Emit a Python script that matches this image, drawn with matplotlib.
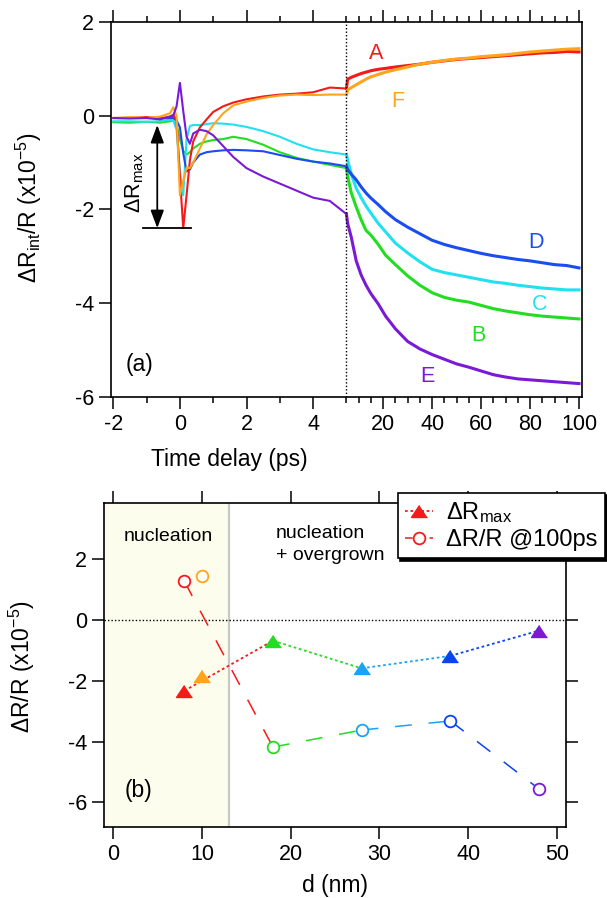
import matplotlib
matplotlib.use('Agg')
import matplotlib.pyplot as plt
import numpy as np
from matplotlib.lines import Line2D

plt.rcParams['font.family'] = ['Liberation Sans', 'DejaVu Sans']
plt.rcParams['mathtext.fontset'] = 'custom'
plt.rcParams['mathtext.rm'] = 'Liberation Sans'
plt.rcParams['mathtext.it'] = 'Liberation Sans:italic'
plt.rcParams['axes.unicode_minus'] = False

# ---------------- data, panel (a) ----------------
t_early = [-2, -1.5, -1, -0.6, -0.3, -0.2, -0.1, 0, 0.1, 0.2, 0.3, 0.4, 0.6, 0.8,
           1.0, 1.3, 1.6, 2.0, 2.5, 3.0, 3.5, 4.0, 4.5, 5.0]
t_late = [5.5, 7, 9, 11, 13, 15, 18, 21, 25, 30, 35, 40, 45, 50, 55, 60, 65, 70,
          75, 80, 85, 90, 95, 100]

A_early = [-0.05, -0.05, -0.03, -0.06, -0.02, 0.02, -0.1, -1.3, -2.4, -1.7, -0.95, -0.55,
           -0.25, -0.08, 0.08, 0.2, 0.28, 0.35, 0.41, 0.45, 0.47, 0.5, 0.6, 0.58]
A_late = [0.78, 0.82, 0.86, 0.9, 0.93, 0.96, 0.99, 1.01, 1.04, 1.07, 1.1, 1.14, 1.17,
          1.2, 1.22, 1.24, 1.26, 1.28, 1.3, 1.32, 1.34, 1.35, 1.37, 1.36]
F_early = [-0.05, -0.03, -0.05, -0.02, 0.05, 0.18, 0.0, -1.7, -1.4, -1.1, -1.12, -1.0,
           -0.7, -0.4, -0.2, 0.05, 0.22, 0.3, 0.38, 0.43, 0.45, 0.44, 0.45, 0.45]
F_late = [0.55, 0.6, 0.66, 0.72, 0.78, 0.83, 0.88, 0.93, 0.98, 1.04, 1.1, 1.14, 1.18,
          1.21, 1.23, 1.26, 1.28, 1.3, 1.33, 1.36, 1.38, 1.4, 1.42, 1.43]
B_early = [-0.14, -0.15, -0.13, -0.15, -0.12, -0.1, -0.2, -0.5, -0.75, -0.83, -0.78, -0.7,
           -0.6, -0.55, -0.52, -0.5, -0.45, -0.5, -0.62, -0.78, -0.9, -0.98, -1.05, -1.12]
B_late = [-1.3, -1.65, -1.95, -2.22, -2.45, -2.55, -2.75, -2.98, -3.18, -3.42, -3.62,
          -3.78, -3.88, -3.94, -3.98, -4.05, -4.12, -4.17, -4.21, -4.25, -4.28, -4.3,
          -4.32, -4.34]
C_early = [-0.12, -0.12, -0.13, -0.12, -0.08, -0.1, -0.3, -1.2, -1.7, -0.5, -0.22, -0.2,
           -0.2, -0.18, -0.16, -0.17, -0.19, -0.24, -0.33, -0.45, -0.6, -0.72, -0.78, -0.83]
C_late = [-0.95, -1.25, -1.55, -1.75, -1.93, -2.08, -2.3, -2.48, -2.72, -2.93, -3.12,
          -3.28, -3.35, -3.4, -3.45, -3.5, -3.55, -3.58, -3.62, -3.65, -3.68, -3.7,
          -3.72, -3.72]
D_early = [-0.05, -0.05, -0.05, -0.05, -0.05, -0.05, -0.1, -0.25, -0.8, -1.19, -1.15, -1.0,
           -0.83, -0.78, -0.76, -0.74, -0.73, -0.74, -0.76, -0.84, -0.92, -0.98, -1.02, -1.08]
D_late = [-1.15, -1.25, -1.37, -1.52, -1.65, -1.76, -1.9, -2.05, -2.22, -2.38, -2.52,
          -2.66, -2.75, -2.82, -2.88, -2.94, -2.99, -3.03, -3.07, -3.1, -3.14, -3.18,
          -3.2, -3.25]
E_early = [-0.05, -0.06, -0.05, -0.08, -0.02, 0.0, 0.2, 0.7, 0.1, -0.45, -0.6, -0.38,
           -0.3, -0.33, -0.42, -0.65, -0.88, -1.12, -1.3, -1.45, -1.6, -1.75, -1.82, -2.1]
E_late = [-2.3, -2.6, -3.1, -3.4, -3.62, -3.8, -4.02, -4.28, -4.55, -4.82, -4.98, -5.1,
          -5.2, -5.3, -5.37, -5.45, -5.53, -5.58, -5.62, -5.64, -5.66, -5.68, -5.7, -5.72]

trace_names = ['B', 'C', 'D', 'A', 'F', 'E']
trace_colors = {'A': '#f51a1a', 'B': '#22dd22', 'C': '#22e0f0',
                'D': '#1a4df0', 'E': '#7a1ad6', 'F': '#ffa41c'}
trace_data = {'A': (A_early, A_late), 'B': (B_early, B_late), 'C': (C_early, C_late),
              'D': (D_early, D_late), 'E': (E_early, E_late), 'F': (F_early, F_late)}
# letter label positions (time in ps, value)
label_pos = {'A': (17.1, 1.20), 'F': (26.1, 0.19), 'D': (82.3, -2.83),
             'C': (83.8, -4.15), 'B': (59.0, -4.81), 'E': (38.0, -5.68)}

dRmax_level = -2.4
dRmax_top = -0.2

# ---------------- data, panel (b) ----------------
d_nm = [8, 10, 18, 28, 38, 48]
dR_max = [-2.33, -1.83, -0.68, -1.59, -1.18, -0.35]
dR_100ps = [1.28, 1.46, -4.18, -3.62, -3.32, -5.56]
point_colors = ['#f51a1a', '#ffa41c', '#22dd22', '#1aa3f5', '#0a44f0', '#7a1ad6']
links = [(0, 2), (2, 3), (3, 4), (4, 5)]
nucleation_edge = 13

# ---------------- figure ----------------
fig = plt.figure(figsize=(6.07, 8.98), dpi=100)
W, H = 607, 898

def px_rect(x0, y0, x1, y1):
    return [x0 / W, 1 - y1 / H, (x1 - x0) / W, (y1 - y0) / H]

ax1 = fig.add_axes(px_rect(111, 22, 581.7, 396.7))
ax2 = fig.add_axes(px_rect(104, 503.3, 566, 826.7))

# broken time axis: linear to 5 ps, compressed beyond
BREAK = 5.0
K = 2.45 / 33.33

def fwd(t):
    t = np.asarray(t, float)
    return np.where(t <= BREAK, t, BREAK + (t - BREAK) * K)

def inv(u):
    u = np.asarray(u, float)
    return np.where(u <= BREAK, u, BREAK + (u - BREAK) / K)

ax1.set_xscale('function', functions=(fwd, inv))

for name in trace_names:
    early, late = trace_data[name]
    ax1.plot(t_early, early, color=trace_colors[name], lw=1.5)
    # noisy long-delay part drawn heavier
    ax1.plot(t_early[-1:] + t_late, early[-1:] + late, color=trace_colors[name], lw=2.2)
    lx, ly = label_pos[name]
    ax1.text(lx, ly, name, color=trace_colors[name], fontsize=15.5, ha='center', va='baseline')

ax1.axvline(BREAK, color='k', lw=1.0, ls=(0, (1, 1.5)))
ax1.set_xlim(-2.069, 101.1)
ax1.set_ylim(-6, 2)

major_t = [-2, 0, 2, 4, 20, 40, 60, 80, 100]
minor_t = [-1, 1, 3, 5, 10, 15, 25, 30, 35, 45, 50, 55, 65, 70, 75, 85, 90, 95]
ax1.set_xticks(major_t, labels=[str(v) for v in major_t])
ax1.set_xticks(minor_t, minor=True)
ax1.set_yticks([-6, -4, -2, 0, 2], labels=['-6', '-4', '-2', '0', '2'])

# Delta R_max marker
ax1.annotate('', xy=(-0.68, dRmax_level), xytext=(-0.68, dRmax_top),
             arrowprops=dict(arrowstyle='<|-|>,head_length=0.72,head_width=0.27',
                             color='k', lw=1.3, mutation_scale=15, shrinkA=0, shrinkB=0))
ax1.plot([-1.12, 0.32], [dRmax_level, dRmax_level], color='k', lw=1.3)
ax1.text(-1.36, -1.43, '\u0394R$_{\\mathrm{max}}$', rotation=90, fontsize=15.5,
         ha='center', va='center')
ax1.text(-1.62, -5.46, '(a)', fontsize=16.5, ha='left', va='baseline')

# ---------------- panel (b) ----------------
ax2.axvspan(-1.05, nucleation_edge, color='#fdfdee', zorder=0)
ax2.axvline(nucleation_edge, color='#c8c8c8', lw=1.6, zorder=0.5)
ax2.axhline(0, color='k', lw=1.0, ls=(0, (1, 1.5)))

tri = [(0, 0.75), (-1, -0.75), (1, -0.75)]
dotted = (0, (1.5, 1.5))
longdash = (0, (11, 11))
for i, j in links:
    ax2.plot([d_nm[i], d_nm[j]], [dR_max[i], dR_max[j]], ls=dotted,
             color=point_colors[i], lw=1.3)
    ax2.plot([d_nm[i], d_nm[j]], [dR_100ps[i], dR_100ps[j]], ls=longdash,
             color=point_colors[i], lw=1.1)
for k in range(len(d_nm)):
    ax2.plot(d_nm[k], dR_max[k], marker=tri, ms=11.5, color=point_colors[k], ls='none')
    ax2.plot(d_nm[k], dR_100ps[k], marker='o', ms=8.4, mfc='white',
             mec=point_colors[k], mew=1.3, ls='none')

ax2.set_xlim(-1.05, 51.04)
ax2.set_ylim(-6.8, 3.84)
ax2.set_xticks([0, 10, 20, 30, 40, 50], labels=['0', '10', '20', '30', '40', '50'])
ax2.set_yticks([-6, -4, -2, 0, 2], labels=['-6', '-4', '-2', '0', '2'])

ax2.text(6.2, 2.61, 'nucleation', fontsize=14, ha='center', va='baseline')
ax2.text(18.34, 2.69, 'nucleation', fontsize=14, ha='left', va='baseline')
ax2.text(18.34, 1.97, '+ overgrown', fontsize=14, ha='left', va='baseline')
ax2.text(1.26, -5.81, '(b)', fontsize=16.5, ha='left', va='baseline')

handles = [
    Line2D([], [], color=point_colors[0], ls=dotted, lw=1.3, marker=tri, ms=11.5,
           label='\u0394R$_{\\mathrm{max}}$'),
    Line2D([], [], color=point_colors[0], ls=(0, (5, 3)), lw=1.1, marker='o', ms=8.4,
           mfc='white', mew=1.3, label='\u0394R/R @100ps'),
]
leg = ax2.legend(handles=handles, loc='upper left',
                 bbox_to_anchor=(397.7 / W, 1 - 492.7 / H), bbox_transform=fig.transFigure,
                 borderaxespad=0, fancybox=False, framealpha=1, edgecolor='k',
                 shadow={'color': 'black', 'alpha': 1}, fontsize=17,
                 handlelength=1.2, handletextpad=0.55, borderpad=0.3, labelspacing=0.2)
leg.get_frame().set_linewidth(1.2)
leg.set_zorder(10)

# ---------------- shared styling ----------------
for ax in (ax1, ax2):
    for sp in ax.spines.values():
        sp.set_linewidth(1.2)
    ax.tick_params(which='major', direction='out', length=8.4, width=1.1,
                   labelsize=15.5, pad=4)
    ax.tick_params(which='minor', direction='out', length=4.2, width=1.1)
ax1.tick_params(which='both', top=True, right=False)
ax2.tick_params(which='both', top=True, right=True)

fig.text(229 / W, 1 - 466 / H, 'Time delay (ps)', fontsize=16.5, ha='center', va='baseline')
fig.text(335 / W, 1 - 892 / H, 'd (nm)', fontsize=16.5, ha='center', va='baseline')
fig.text(29 / W, 1 - 208 / H, '\u0394R$_{\\mathrm{int}}$/R (x10$^{-5}$)', fontsize=16.5,
         rotation=90, ha='center', va='center')
fig.text(22 / W, 1 - 667 / H, '\u0394R/R (x10$^{-5}$)', fontsize=16.5,
         rotation=90, ha='center', va='center')

fig.savefig('out.png', dpi=100)
